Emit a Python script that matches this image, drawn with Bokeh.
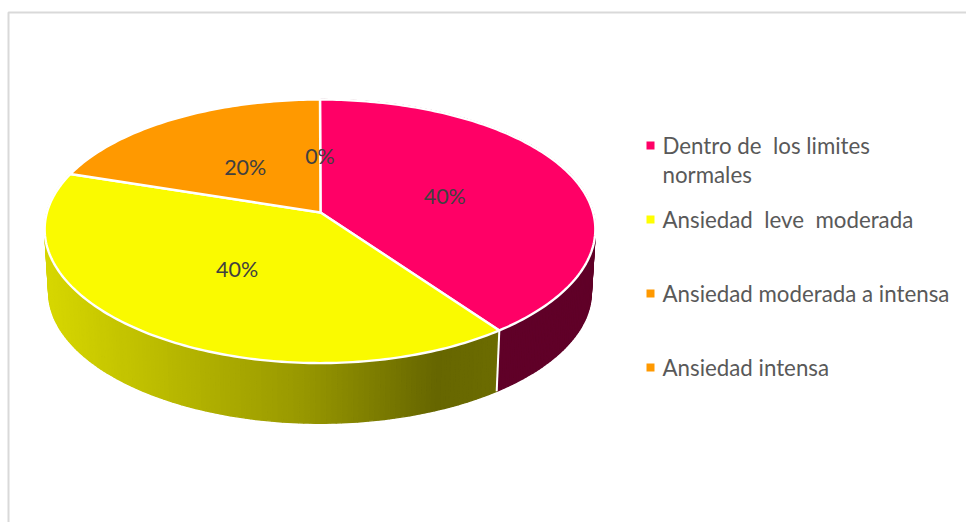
import math

from bokeh.core.properties import value
from bokeh.embed import file_html
from bokeh.plotting import figure
from bokeh.resources import INLINE

# Survey results: share of respondents per anxiety level
categories = [
    "Dentro de  los limites normales",
    "Ansiedad  leve  moderada",
    "Ansiedad moderada a intensa",
    "Ansiedad intensa",
]
shares = [40, 40, 20, 0]
share_labels = ["40%", "40%", "20%", "0%"]

# A no-break space keeps the wide word gaps in the legend entries
legend_lines = [
    ["Dentro de\u00a0 los limites", "normales"],
    ["Ansiedad\u00a0 leve\u00a0 moderada"],
    ["Ansiedad moderada a intensa"],
    ["Ansiedad intensa"],
]
legend_y = [145, 219, 293, 367]
legend_line_gap = 29

face_colors = ["#ff0066", "#fafa00", "#ff9900", "#ff9900"]
legend_colors = ["#ff0066", "#ffff00", "#ff9900", "#ff9900"]
pink_wall = "#600028"
yellow_wall_stops = [(50, (214, 214, 0)), (300, (152, 152, 0)), (435, (102, 102, 0)), (497, (108, 108, 0))]

FONT = "Lato"
K_X = 0.13
K_Y = 0.145
CX = 319.5


def project(theta_deg, radius=1.0, lower=False):
    """Tilted-disc projection: theta runs clockwise from 12 o'clock."""
    t = math.radians(theta_deg)
    u, v = radius * math.sin(t), radius * math.cos(t)
    wx, wy = 1 + K_X * v, 1 + K_Y * v
    if lower:
        return CX + 269 * u / wx, 275 - 126.3 * v / wy
    return CX + 273 * u / wx, 211.7 - 129 * v / wy


def bottom(theta_deg):
    return project(theta_deg, lower=True)


def arc(a, b, step=1.0):
    n = max(int(abs(b - a) / step), 1)
    return [a + (b - a) * i / n for i in range(n + 1)]


def wall_shade(x):
    stops = yellow_wall_stops
    if x <= stops[0][0]:
        return stops[0][1]
    for (x0, c0), (x1, c1) in zip(stops, stops[1:]):
        if x <= x1:
            f = (x - x0) / (x1 - x0)
            return tuple(round(c0[i] + (c1[i] - c0[i]) * f) for i in range(3))
    return stops[-1][1]


p = figure(
    width=966, height=522, x_range=(0, 966), y_range=(522, 0),
    output_backend="svg", toolbar_location=None, min_border=0,
    x_axis_type=None, y_axis_type=None, background_fill_color="white",
)
p.grid.visible = False
p.outline_line_color = None

# Chart frame
p.line([8, 8, 966], [522, 12, 12], line_color="#d9d9d9", line_width=2)

# Slice boundaries in degrees
total = sum(shares)
edges = [0.0]
for s in shares:
    edges.append(edges[-1] + 360 * s / total)

# Side walls as narrow strips: first slice solid, second slice shaded
xs, ys, cols = [], [], []
th = arc(edges[0], edges[1])
for a, b in zip(th, th[1:]):
    pts = [project(a), project(b), bottom(b), bottom(a)]
    xs.append([q[0] for q in pts])
    ys.append([q[1] for q in pts])
    cols.append(pink_wall)

th = arc(edges[1], edges[2])
for a, b in zip(th, th[1:]):
    pts = [project(a), project(b), bottom(b), bottom(a)]
    xs.append([q[0] for q in pts])
    ys.append([q[1] for q in pts])
    r, g, bl = wall_shade(sum(q[0] for q in pts) / 4)
    cols.append(f"#{r:02x}{g:02x}{bl:02x}")
p.patches(xs, ys, fill_color=cols, line_color=cols, line_width=1.4)

# Seam between the two visible walls
s0, s1 = project(edges[1]), bottom(edges[1])
p.line([s0[0], s1[0]], [s0[1], s1[1]], line_color="white", line_width=2)

# Top face
centre = (320, 212)
for i in range(len(shares)):
    if shares[i] == 0:
        continue
    pts = [centre] + [project(t) for t in arc(edges[i], edges[i + 1])]
    p.patch([q[0] for q in pts], [q[1] for q in pts], fill_color=face_colors[i],
            line_color="white", line_width=2.4, line_join="round")

# Percentage labels near half radius along each slice's bisector
lx, ly = [], []
for i in range(len(shares)):
    q = project((edges[i] + edges[i + 1]) / 2, radius=0.49)
    lx.append(q[0])
    ly.append(q[1] + 3)
p.text(lx, ly, text=share_labels, text_font=value(FONT), text_font_size="21.5px",
       text_color="#404040", text_align="center", text_baseline="middle")

# Legend
p.scatter([650] * 4, legend_y, marker="square", size=8, fill_color=legend_colors, line_color=None)
for y, lines in zip(legend_y, legend_lines):
    p.text([662] * len(lines), [y + legend_line_gap * j for j in range(len(lines))], text=lines,
           text_font=value(FONT), text_font_size="22.3px", text_color="#595959",
           text_align="left", text_baseline="middle")

open("out.html", "w").write(file_html(p, INLINE))
